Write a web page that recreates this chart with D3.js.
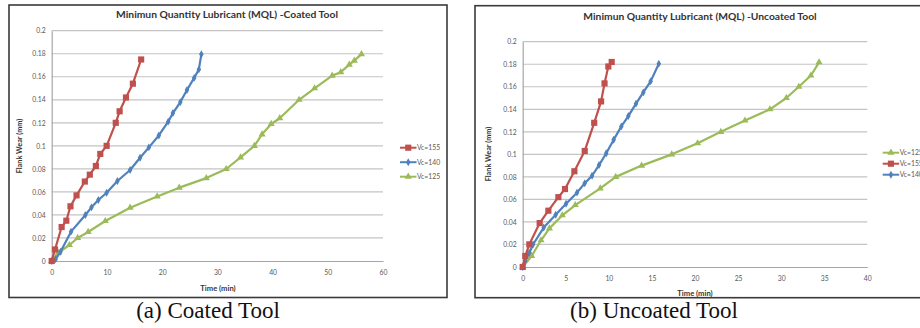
<!DOCTYPE html>
<html><head><meta charset="utf-8">
<script src="https://cdn.jsdelivr.net/npm/d3@7"></script>
<style>
html,body{margin:0;padding:0;background:#fff;}
svg{display:block;}
text{font-family:Lato,"Open Sans",sans-serif;}
</style></head>
<body>
<svg id="c" width="920" height="328"></svg>
<script>
// ---------- DATA ----------
const yTicks = [0,0.02,0.04,0.06,0.08,0.1,0.12,0.14,0.16,0.18,0.2];
const yTickLabels = ["0","0.02","0.04","0.06","0.08","0.1","0.12","0.14","0.16","0.18","0.2"];
const coatedXTicks = [0,10,20,30,40,50,60];
const uncoatedXTicks = [0,5,10,15,20,25,30,35,40];

// Coated tool
const coatedT155 = [0,0.6,1.8,2.65,3.4,4.5,6.0,6.9,8.0,8.8,9.95,11.6,12.3,13.45,14.7,16.2];
const coatedW155 = [0,0.010,0.0295,0.035,0.0475,0.057,0.069,0.075,0.0825,0.093,0.100,0.120,0.130,0.142,0.154,0.175];
const coatedT140 = [0,0.7,1.6,3.5,6.1,7.2,8.45,9.95,11.9,14.2,16.0,17.6,19.4,21.1,21.95,23.3,24.5,25.8,26.65,27.1];
const coatedW140 = [0,0.0015,0.008,0.0255,0.040,0.0466,0.053,0.0593,0.0695,0.079,0.0897,0.0987,0.109,0.121,0.1285,0.138,0.1485,0.159,0.1664,0.1795];
const coatedT125 = [0,1.2,3.2,4.7,6.6,9.7,14.2,19.1,23.1,28.0,31.6,34.2,36.7,38.1,39.75,41.3,44.8,47.6,50.8,52.35,53.9,54.8,56.1];
const coatedW125 = [0,0.007,0.0139,0.020,0.0252,0.0347,0.0463,0.0561,0.0637,0.072,0.0799,0.090,0.100,0.110,0.119,0.124,0.140,0.150,0.161,0.164,0.1705,0.174,0.1797];

// Uncoated tool
const uncoatedT155 = [0,0.3,0.77,1.97,2.98,4.14,4.91,6.0,7.2,8.3,9.1,9.5,9.94,10.33];
const uncoatedW155 = [0,0.0098,0.0201,0.039,0.050,0.062,0.0692,0.085,0.103,0.128,0.147,0.163,0.178,0.182];
const uncoatedT140 = [0,0.3,0.77,1.2,2.44,3.83,5.03,6.3,7.2,8.05,8.86,9.7,10.56,11.45,12.26,13.15,14.0,14.85,15.8];
const uncoatedW140 = [0,0.0056,0.0127,0.020,0.035,0.0464,0.0562,0.066,0.0743,0.081,0.0905,0.101,0.113,0.1248,0.134,0.145,0.155,0.1648,0.1805];
const uncoatedT125 = [0,1.04,2.13,3.1,4.6,6.1,9.0,10.8,13.8,17.3,20.3,23.0,25.8,28.7,30.6,32.05,33.45,34.4];
const uncoatedW125 = [0,0.0098,0.0237,0.0343,0.0459,0.055,0.0698,0.080,0.090,0.100,0.1098,0.120,0.130,0.140,0.150,0.160,0.170,0.1817];

const titles = ["Minimun Quantity Lubricant (MQL) -Coated Tool","Minimun Quantity Lubricant (MQL) -Uncoated Tool"];
const captions = ["(a) Coated Tool","(b) Uncoated Tool"];
const xTitle = "Time (min)";
const yTitle = "Flank Wear (mm)";

const COLORS = {r:"#C0504D", b:"#4F81BD", g:"#9BBB59"};

// ---------- DRAW ----------
const svg = d3.select("#c");

function zip(t,w){ return t.map((v,i)=>({t:v,w:w[i]})); }

function symbolFor(kind){
  if(kind==="r") return d3.symbol().type(d3.symbolSquare).size(38);
  if(kind==="b") return d3.symbol().type(d3.symbolDiamond).size(18);
  return d3.symbol().type(d3.symbolTriangle).size(22);
}

function drawPanel(cfg){
  const g = svg.append("g");
  // frame
  g.append("rect").attr("x",cfg.frame[0]).attr("y",cfg.frame[1])
    .attr("width",cfg.frame[2]).attr("height",cfg.frame[3])
    .attr("fill","#fff").attr("stroke","#3a3a3a").attr("stroke-width",1.6);

  const x = d3.scaleLinear().domain([cfg.xTicks[0], cfg.xTicks[cfg.xTicks.length-1]]).range([cfg.x0,cfg.x1]);
  const y = d3.scaleLinear().domain([0,0.2]).range([cfg.y0,cfg.y1]);

  // gridlines
  g.append("g").selectAll("line").data(yTicks.slice(1)).join("line")
    .attr("x1",cfg.x0).attr("x2",cfg.x1).attr("y1",d=>y(d)).attr("y2",d=>y(d))
    .attr("stroke","#c4c4c4").attr("stroke-width",1.2);

  // axes
  const yAxis = d3.axisLeft(y).tickValues(yTicks).tickFormat((d,i)=>yTickLabels[i]).tickSize(0).tickPadding(6);
  const ya = g.append("g").attr("transform",`translate(${cfg.x0},0)`).call(yAxis);
  ya.select(".domain").attr("stroke","#a6a6a6").attr("stroke-width",1.2);
  ya.selectAll("text").attr("font-size",6.8).attr("fill","#595959");

  const xAxis = d3.axisBottom(x).tickValues(cfg.xTicks).tickSize(0).tickPadding(9);
  const xa = g.append("g").attr("transform",`translate(0,${cfg.y0})`).call(xAxis);
  xa.select(".domain").attr("stroke","#a6a6a6").attr("stroke-width",1.2);
  xa.selectAll("text").attr("font-size",6.8).attr("fill","#595959");

  // titles
  g.append("text").attr("x",cfg.titleX).attr("y",cfg.titleY).attr("text-anchor","middle")
    .attr("font-size",10.3).attr("font-weight","bold").attr("fill","#333").text(cfg.title);
  g.append("text").attr("x",cfg.xTitleX).attr("y",cfg.xTitleY).attr("text-anchor","middle")
    .attr("font-size",7.6).attr("font-weight","bold").attr("fill","#333").text(xTitle);
  g.append("text").attr("transform",`translate(${cfg.yTitleX},${cfg.yTitleY}) rotate(-90)`)
    .attr("text-anchor","middle").attr("font-size",7.3).attr("font-weight","bold").attr("fill","#333").text(yTitle);

  // series
  const line = d3.line().x(d=>x(d.t)).y(d=>y(d.w));
  cfg.series.forEach(s=>{
    const data = zip(s.t,s.w);
    g.append("path").datum(data).attr("d",line).attr("fill","none")
      .attr("stroke",COLORS[s.k]).attr("stroke-width",2.2).attr("stroke-linejoin","round");
    g.append("g").selectAll("path").data(data).join("path")
      .attr("transform",d=>`translate(${x(d.t)},${y(d.w)})`)
      .attr("d",symbolFor(s.k)()).attr("fill",COLORS[s.k]);
  });

  // legend
  const lg = g.append("g");
  cfg.legend.forEach((s,i)=>{
    const yy = cfg.legY + i*cfg.legDY;
    lg.append("line").attr("x1",cfg.legX).attr("x2",cfg.legX+cfg.legW).attr("y1",yy).attr("y2",yy)
      .attr("stroke",COLORS[s.k]).attr("stroke-width",2);
    lg.append("path").attr("transform",`translate(${cfg.legX+cfg.legW/2},${yy})`)
      .attr("d",symbolFor(s.k)()).attr("fill",COLORS[s.k]);
    lg.append("text").attr("x",cfg.legX+cfg.legW+0.5).attr("y",yy).attr("dy","0.35em")
      .attr("font-size",6.8).attr("fill","#595959").text(s.label);
  });

  // caption
  svg.append("text").attr("x",cfg.capX).attr("y",318).attr("text-anchor","middle")
    .style("font-family","'Liberation Serif','Times New Roman',serif").attr("font-size",23)
    .attr("fill","#111").text(cfg.caption);
}

drawPanel({
  frame:[9,5,438,292.5],
  x0:51.7, x1:383, y0:261, y1:30.7,
  xTicks:coatedXTicks,
  title:titles[0], titleX:227, titleY:18,
  xTitleX:218, xTitleY:291,
  yTitleX:22, yTitleY:146,
  series:[
    {k:"g", t:coatedT125, w:coatedW125},
    {k:"b", t:coatedT140, w:coatedW140},
    {k:"r", t:coatedT155, w:coatedW155}
  ],
  legend:[{k:"r",label:"Vc=155"},{k:"b",label:"Vc=140"},{k:"g",label:"Vc=125"}],
  legX:400, legW:16.5, legY:147.7, legDY:14.5,
  caption:captions[0], capX:208
});

drawPanel({
  frame:[475,5.7,460,292],
  x0:522.7, x1:867.3, y0:267, y1:41.7,
  xTicks:uncoatedXTicks,
  title:titles[1], titleX:700, titleY:19.5,
  xTitleX:695, xTitleY:296,
  yTitleX:491, yTitleY:154,
  series:[
    {k:"g", t:uncoatedT125, w:uncoatedW125},
    {k:"b", t:uncoatedT140, w:uncoatedW140},
    {k:"r", t:uncoatedT155, w:uncoatedW155}
  ],
  legend:[{k:"g",label:"Vc=125"},{k:"r",label:"Vc=155"},{k:"b",label:"Vc=140"}],
  legX:882.7, legW:16.5, legY:152.7, legDY:11,
  caption:captions[1], capX:654
});
</script>
</body></html>
